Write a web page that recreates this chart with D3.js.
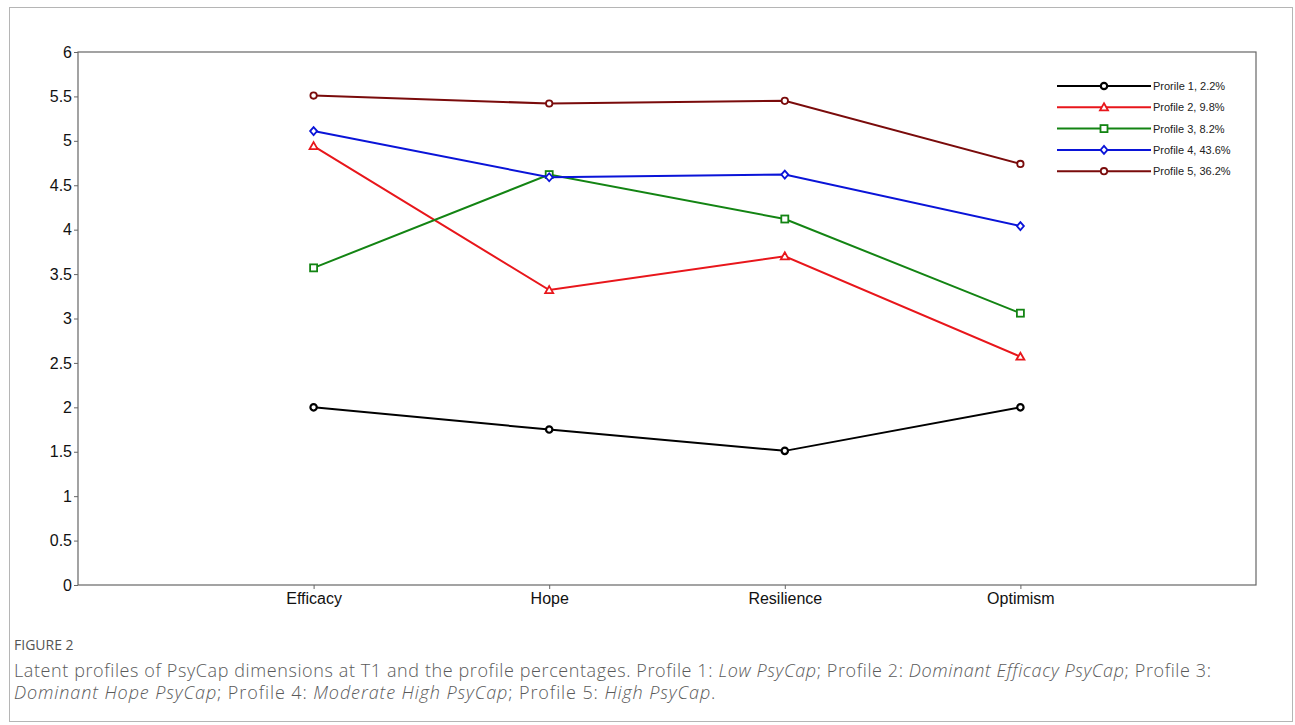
<!DOCTYPE html>
<html>
<head>
<meta charset="utf-8">
<script src="https://cdn.jsdelivr.net/npm/d3@7"></script>
<style>
  body { margin: 0; background: #fff; }
  svg { display: block; }
</style>
</head>
<body>
<svg id="chart" width="1295" height="725"></svg>
<script>
// data
var dimensions = ["Efficacy", "Hope", "Resilience", "Optimism"];
var profileNames = ["Prorile 1, 2.2%", "Profile 2, 9.8%", "Profile 3, 8.2%", "Profile 4, 43.6%", "Profile 5, 36.2%"];
var profile1 = [2.00, 1.75, 1.51, 2.00];
var profile2 = [4.94, 3.32, 3.70, 2.57];
var profile3 = [3.57, 4.62, 4.12, 3.06];
var profile4 = [5.11, 4.59, 4.62, 4.04];
var profile5 = [5.51, 5.42, 5.45, 4.74];
var yTicks = [0, 0.5, 1, 1.5, 2, 2.5, 3, 3.5, 4, 4.5, 5, 5.5, 6];

var colors = ["#000000", "#e8161b", "#138413", "#0a14d8", "#7a0b0b"];
var shapes = ["circle", "triangle", "square", "diamond", "circle"];
var series = [profile1, profile2, profile3, profile4, profile5];

var svg = d3.select("#chart");

// outer frame
svg.append("rect")
  .attr("x", 9.5).attr("y", 7.5)
  .attr("width", 1283).attr("height", 714)
  .attr("fill", "none").attr("stroke", "#b5b5b5");

var plotL = 78, plotT = 52, plotR = 1256, plotB = 585;

var x = d3.scalePoint().domain(dimensions).range([plotL, plotR]).padding(1);
var y = d3.scaleLinear().domain([0, 6]).range([plotB, plotT]);

// plot box
svg.append("rect")
  .attr("x", plotL).attr("y", plotT)
  .attr("width", plotR - plotL).attr("height", plotB - plotT)
  .attr("fill", "none").attr("stroke", "#666").attr("stroke-width", 1.2);

var yAxis = svg.append("g")
  .attr("transform", "translate(" + plotL + ",0)")
  .call(d3.axisLeft(y).tickValues(yTicks).tickSize(4).tickPadding(2).tickFormat(d3.format("")));
var xAxis = svg.append("g")
  .attr("transform", "translate(0," + plotB + ")")
  .call(d3.axisBottom(x).tickSize(4).tickPadding(4));

[yAxis, xAxis].forEach(function(a) {
  a.select(".domain").remove();
  a.selectAll("line").attr("stroke", "#666");
  a.selectAll("text")
    .attr("fill", "#111")
    .style("font-family", "Arial, 'Liberation Sans', sans-serif")
    .style("font-size", "16px");
});

var line = d3.line()
  .x(function(d, i) { return x(dimensions[i]); })
  .y(function(d) { return y(d); });

function drawMarker(g, shape, cx, cy, color, k) {
  var s;
  if (shape == "circle") {
    s = g.append("circle").attr("cx", cx).attr("cy", cy).attr("r", 3.2);
  } else if (shape == "triangle") {
    s = g.append("path").attr("d", "M" + cx + "," + (cy - 4) + "L" + (cx + 4) + "," + (cy + 3) + "L" + (cx - 4) + "," + (cy + 3) + "Z");
  } else if (shape == "square") {
    s = g.append("rect").attr("x", cx - 3.5).attr("y", cy - 3.5).attr("width", 7).attr("height", 7);
  } else {
    s = g.append("path").attr("d", "M" + cx + "," + (cy - 4) + "L" + (cx + 3.5) + "," + cy + "L" + cx + "," + (cy + 4) + "L" + (cx - 3.5) + "," + cy + "Z");
  }
  s.attr("fill", "#fff").attr("stroke", color).attr("stroke-width", k == 0 ? 2.2 : 1.8);
}

series.forEach(function(vals, k) {
  var g = svg.append("g");
  g.append("path")
    .datum(vals)
    .attr("d", line)
    .attr("fill", "none")
    .attr("stroke", colors[k])
    .attr("stroke-width", 2);
  vals.forEach(function(v, i) {
    drawMarker(g, shapes[k], x(dimensions[i]), y(v), colors[k], k);
  });
});

// legend
var legend = svg.append("g").attr("transform", "translate(1057,86)");
profileNames.forEach(function(name, k) {
  var row = legend.append("g").attr("transform", "translate(0," + (k * 21.3) + ")");
  row.append("line").attr("x1", 0).attr("x2", 94).attr("y1", 0).attr("y2", 0)
    .attr("stroke", colors[k]).attr("stroke-width", 2);
  drawMarker(row, shapes[k], 47, 0, colors[k], k);
  row.append("text").attr("x", 96).attr("y", 4)
    .attr("fill", "#222")
    .style("font-family", "Arial, 'Liberation Sans', sans-serif")
    .style("font-size", "11px")
    .text(name);
});

// caption
svg.append("text").attr("x", 14).attr("y", 650)
  .attr("fill", "#555")
  .style("font-family", "'Open Sans', sans-serif")
  .style("font-size", "14px")
  .text("FIGURE 2");

var capFont = "'Open Sans', sans-serif";
var cap1 = svg.append("text").attr("x", 14).attr("y", 677)
  .attr("fill", "#5a5a5a").style("font-family", capFont).style("font-size", "18px")
  .style("font-weight", 300).style("letter-spacing", "0.6px");
cap1.append("tspan").text("Latent profiles of PsyCap dimensions at T1 and the profile percentages. Profile 1: ");
cap1.append("tspan").style("font-style", "italic").text("Low PsyCap");
cap1.append("tspan").text("; Profile 2: ");
cap1.append("tspan").style("font-style", "italic").text("Dominant Efficacy PsyCap");
cap1.append("tspan").text("; Profile 3:");

var cap2 = svg.append("text").attr("x", 14).attr("y", 699)
  .attr("fill", "#5a5a5a").style("font-family", capFont).style("font-size", "18px")
  .style("font-weight", 300).style("letter-spacing", "0.9px");
cap2.append("tspan").style("font-style", "italic").text("Dominant Hope PsyCap");
cap2.append("tspan").text("; Profile 4: ");
cap2.append("tspan").style("font-style", "italic").text("Moderate High PsyCap");
cap2.append("tspan").text("; Profile 5: ");
cap2.append("tspan").style("font-style", "italic").text("High PsyCap");
cap2.append("tspan").text(".");
</script>
</body>
</html>
